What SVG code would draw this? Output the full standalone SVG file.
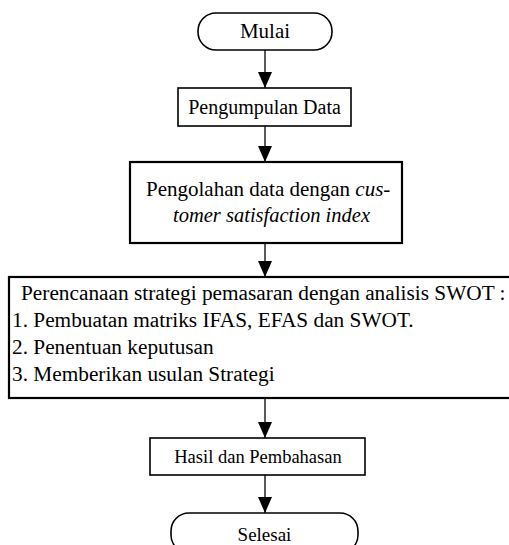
<svg xmlns="http://www.w3.org/2000/svg" width="509" height="545" viewBox="0 0 509 545">
<style>
.box{fill:#fff;stroke:#000;stroke-width:1.6}
.thick{stroke-width:2.2}
text{font-family:"Liberation Serif","Times New Roman",Tinos,"DejaVu Serif",serif;fill:#000}
.c{text-anchor:middle}
.i{font-style:italic}
.edge{stroke:#000;stroke-width:1.3;fill:none}
</style>
<defs>
<marker id="arr" markerUnits="userSpaceOnUse" markerWidth="16" markerHeight="14" refX="16" refY="7" orient="auto" viewBox="0 0 16 14">
<path d="M0,0 L16,7 L0,14 Z" fill="#000"/>
</marker>
</defs>
<g id="connectors">
<line class="edge" x1="265" y1="50" x2="265" y2="88" marker-end="url(#arr)"/>
<line class="edge" x1="265" y1="126" x2="265" y2="162" marker-end="url(#arr)"/>
<line class="edge" x1="265" y1="243" x2="265" y2="277" marker-end="url(#arr)"/>
<line class="edge" x1="265" y1="398" x2="265" y2="438" marker-end="url(#arr)"/>
<line class="edge" x1="265" y1="475" x2="265" y2="513" marker-end="url(#arr)"/>
</g>
<g id="mulai">
<rect class="box" x="198" y="13" width="134" height="37" rx="18" ry="18"/>
<text class="c" x="265" y="38" font-size="21">Mulai</text>
</g>
<g id="pengumpulan">
<rect class="box" x="178" y="88" width="173" height="38"/>
<text class="c" x="264.5" y="114" font-size="20">Pengumpulan Data</text>
</g>
<g id="pengolahan">
<rect class="box thick" x="130" y="162" width="272" height="81"/>
<text x="146" y="196" font-size="21">Pengolahan data dengan <tspan class="i">cus-</tspan></text>
<text class="i" x="173" y="222" font-size="20.5">tomer satisfaction index</text>
</g>
<g id="perencanaan">
<rect class="box thick" x="9" y="277" width="510" height="121"/>
<text x="21" y="300" font-size="21.3">Perencanaan strategi pemasaran dengan analisis SWOT :</text>
<text x="12" y="327" font-size="21.3">1. Pembuatan matriks IFAS, EFAS dan SWOT.</text>
<text x="12" y="354" font-size="21.3">2. Penentuan keputusan</text>
<text x="12" y="381" font-size="21.3">3. Memberikan usulan Strategi</text>
</g>
<g id="hasil">
<rect class="box" x="150" y="438" width="215" height="37"/>
<text class="c" x="258" y="463" font-size="18.5">Hasil dan Pembahasan</text>
</g>
<g id="selesai">
<rect class="box" x="171" y="513" width="187" height="40" rx="18" ry="18"/>
<text class="c" x="264.5" y="541" font-size="19">Selesai</text>
</g>
</svg>
